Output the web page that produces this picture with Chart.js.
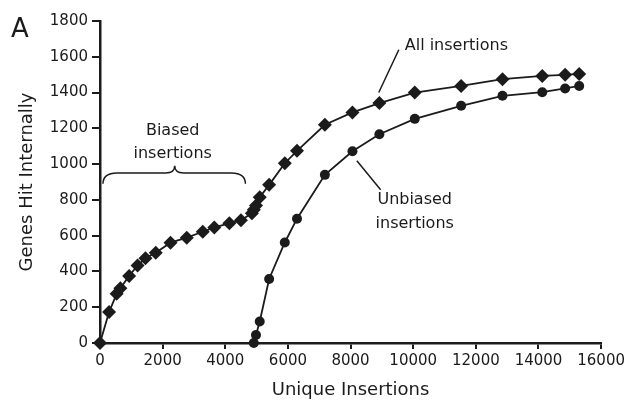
<!DOCTYPE html>
<html><head><meta charset="utf-8">
<script src="https://cdn.jsdelivr.net/npm/chart.js@4.4.0/dist/chart.umd.min.js"></script>
<style>html,body{margin:0;padding:0;background:#fff}</style>
</head><body>
<canvas id="c" width="628" height="401"></canvas>
<script>
// ---- data ----
const uniqueInsertions = [0, 290, 530, 650, 930, 1200, 1450, 1780, 2250, 2770, 3280, 3650, 4130, 4500, 4850, 4910, 4980, 5100, 5400, 5900, 6290, 7180, 8060, 8920, 10050, 11530, 12850, 14120, 14850, 15300];
const allInsertionsGenes = [0, 173, 275, 306, 375, 433, 474, 505, 561, 589, 622, 646, 669, 686, 725, 745, 768, 815, 884, 1005, 1074, 1220, 1289, 1341, 1400, 1437, 1475, 1493, 1499, 1504];
const unbiasedInsertions = [4910, 4980, 5100, 5400, 5900, 6290, 7180, 8060, 8920, 10050, 11530, 12850, 14120, 14850, 15300];
const unbiasedGenes = [0, 45, 120, 358, 562, 695, 940, 1072, 1167, 1253, 1326, 1382, 1402, 1423, 1437];
const xTickValues = [0, 2000, 4000, 6000, 8000, 10000, 12000, 14000, 16000];
const yTickValues = [0, 200, 400, 600, 800, 1000, 1200, 1400, 1600, 1800];
const seriesNames = ["All insertions", "Unbiased insertions"];

const INK = '#1b1b1b';
const FONT = '"DejaVu Sans", sans-serif';

const toPts = (xs, ys) => xs.map((x, i) => ({x: x, y: ys[i]}));

// annotation anchors in data units
const notes = {
  panel: 'A',
  allLabel: {x: 9730, y: 1661},
  allPointer: [{x: 9540, y: 1639}, {x: 8900, y: 1400}],
  unbiasedLabel: {x: 10048, y: 801},
  unbiasedPointer: [{x: 8200, y: 1019}, {x: 8960, y: 857}],
  biasedLabel: {x: 2321, y: 1186},
  brace: {x0: 95, x1: 4642, tip: 2385, yb: 890, yt: 951, ytip: 991}
};

const annot = {
  id: 'annot',
  afterDraw(chart) {
    const ctx = chart.ctx, xs = chart.scales.x, ys = chart.scales.y;
    const px = v => xs.getPixelForValue(v), py = v => ys.getPixelForValue(v);
    ctx.save();
    ctx.fillStyle = INK; ctx.strokeStyle = INK;
    // panel letter
    ctx.font = '26px ' + FONT; ctx.textAlign = 'left'; ctx.textBaseline = 'alphabetic';
    ctx.fillText(notes.panel, 11, 37);
    // labels
    ctx.font = '16px ' + FONT; ctx.textBaseline = 'middle';
    ctx.textAlign = 'left';
    ctx.fillText('All insertions', px(notes.allLabel.x), py(notes.allLabel.y));
    ctx.textAlign = 'center';
    ctx.fillText('Unbiased', px(notes.unbiasedLabel.x), py(notes.unbiasedLabel.y));
    ctx.fillText('insertions', px(notes.unbiasedLabel.x), py(notes.unbiasedLabel.y) + 24);
    ctx.fillText('Biased', px(notes.biasedLabel.x), py(notes.biasedLabel.y));
    ctx.fillText('insertions', px(notes.biasedLabel.x), py(notes.biasedLabel.y) + 23);
    // pointers
    ctx.lineWidth = 1.5;
    [notes.allPointer, notes.unbiasedPointer].forEach(p => {
      ctx.beginPath(); ctx.moveTo(px(p[0].x), py(p[0].y)); ctx.lineTo(px(p[1].x), py(p[1].y)); ctx.stroke();
    });
    // brace
    const b = notes.brace;
    const L = px(b.x0), R = px(b.x1), T = px(b.tip), yb = py(b.yb), yt = py(b.yt), yk = py(b.ytip);
    ctx.beginPath();
    ctx.moveTo(L, yb);
    ctx.quadraticCurveTo(L, yt, L + 14, yt);
    ctx.lineTo(T - 9, yt);
    ctx.quadraticCurveTo(T, yt, T, yk);
    ctx.quadraticCurveTo(T, yt, T + 9, yt);
    ctx.lineTo(R - 14, yt);
    ctx.quadraticCurveTo(R, yt, R, yb);
    ctx.stroke();
    ctx.restore();
  }
};

new Chart(document.getElementById('c'), {
  type: 'scatter',
  data: {
    datasets: [
      {label: seriesNames[0], data: toPts(uniqueInsertions, allInsertionsGenes), showLine: true,
       borderColor: INK, backgroundColor: INK, borderWidth: 1.8, pointStyle: 'rectRot',
       pointRadius: 7, pointBorderWidth: 0, clip: false, order: 2},
      {label: seriesNames[1], data: toPts(unbiasedInsertions, unbiasedGenes), showLine: true,
       borderColor: INK, backgroundColor: INK, borderWidth: 1.8, pointStyle: 'circle',
       pointRadius: 5, pointBorderWidth: 0, clip: false, order: 1}
    ]
  },
  options: {
    responsive: false, animation: false, devicePixelRatio: 1,
    layout: {padding: {left: 0, right: 25, top: 21, bottom: 0}},
    plugins: {legend: {display: false}, tooltip: {enabled: false}},
    scales: {
      x: {
        type: 'linear', min: 0, max: 16000,
        afterFit: s => { s.height = 58; },
        afterBuildTicks: s => { s.ticks = xTickValues.map(v => ({value: v})); },
        ticks: {color: INK, font: {family: FONT, size: 15}, padding: 3, maxRotation: 0, autoSkip: false,
                callback: v => String(v)},
        grid: {drawOnChartArea: false, drawTicks: true, tickLength: 6, color: INK, lineWidth: 2},
        border: {display: true, color: INK, width: 2.5},
        title: {display: true, text: 'Unique Insertions', color: INK, font: {family: FONT, size: 18}, padding: {top: 0, bottom: 0}}
      },
      y: {
        type: 'linear', min: 0, max: 1800,
        afterFit: s => { s.width = 100; },
        afterBuildTicks: s => { s.ticks = yTickValues.map(v => ({value: v})); },
        ticks: {color: INK, font: {family: FONT, size: 15}, padding: 4, autoSkip: false,
                callback: v => String(v)},
        grid: {drawOnChartArea: false, drawTicks: true, tickLength: 8, color: INK, lineWidth: 2},
        border: {display: true, color: INK, width: 2.5},
        title: {display: true, text: 'Genes Hit Internally', color: INK, font: {family: FONT, size: 18}, padding: {top: 17, bottom: 0}}
      }
    }
  },
  plugins: [annot]
});
</script>
</body></html>
